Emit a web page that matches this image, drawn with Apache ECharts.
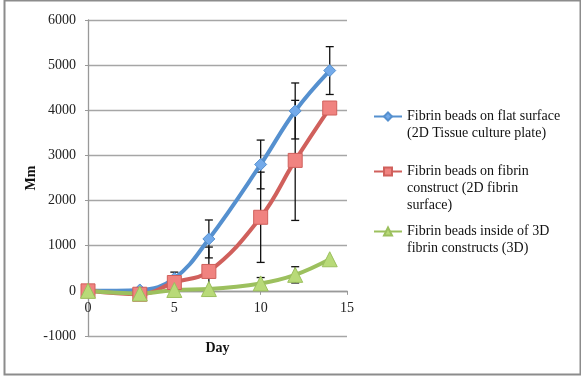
<!DOCTYPE html>
<html>
<head>
	<meta http-equiv="Content-Type" content="text/html; charset=utf-8"/>
	<title>Fibrin beads</title>
	<script type="text/javascript" src="https://cdn.jsdelivr.net/npm/echarts@6/dist/echarts.min.js"></script>
</head>
<style type="text/css">
	body{
		margin: 0px;
		padding: 0px;
		background: #fff;
	}
	#main {
		width: 581px;
		height: 376px;
	}
</style>
<body>
	<div id="main"></div>
</body>
</html>
<script type="text/javascript">
	// 数据
	var days = [0, 3, 5, 7, 10, 12, 14];
	var name_1 = 'Fibrin beads on flat surface\n(2D Tissue culture plate)';
	var name_2 = 'Fibrin beads on fibrin\nconstruct (2D fibrin\nsurface)';
	var name_3 = 'Fibrin beads inside of 3D\nfibrin constructs (3D)';
	var data_1 = [0, 20, 275, 1150, 2800, 3985, 4880];
	var data_2 = [0, -75, 185, 430, 1630, 2890, 4050];
	var data_3 = [0, -60, 20, 40, 165, 355, 700];
	// 误差
	var err_1 = [0, 0, 140, 420, 540, 620, 530];
	var err_2 = [0, 0, 0, 540, 1000, 1330, 0];
	var err_3 = [0, 0, 0, 0, 130, 180, 0];
	var y_ticks = {min: -1000, max: 6000, interval: 1000};
	var x_ticks = {min: 0, max: 15, interval: 5};

	var font = 'Liberation Serif';

	function pairs(vals){
		var out = [];
		for(var i=0;i<days.length;i++){
			out.push([days[i], vals[i]]);
		}
		return out;
	}
	function errData(vals, errs){
		var out = [];
		for(var i=0;i<days.length;i++){
			if(errs[i] > 0){
				out.push([days[i], vals[i]-errs[i], vals[i]+errs[i]]);
			}
		}
		return out;
	}
	function renderErr(params, api){
		var x = api.value(0);
		var top = api.coord([x, api.value(2)]);
		var bot = api.coord([x, api.value(1)]);
		var w = 4;
		var st = {stroke: '#111', lineWidth: 1.3};
		return {
			type: 'group',
			children: [
				{type: 'line', shape: {x1: top[0], y1: top[1], x2: bot[0], y2: bot[1]}, style: st},
				{type: 'line', shape: {x1: top[0]-w, y1: top[1], x2: top[0]+w, y2: top[1]}, style: st},
				{type: 'line', shape: {x1: bot[0]-w, y1: bot[1], x2: bot[0]+w, y2: bot[1]}, style: st}
			]
		};
	}
	function lineSeries(name, vals, lineColor, markColor, symbol, size){
		return {
			name: name,
			type: 'line',
			smooth: 0.4,
			z: 3,
			symbol: symbol,
			symbolSize: size,
			showAllSymbol: true,
			lineStyle: {color: lineColor, width: 4},
			itemStyle: {color: markColor, borderColor: lineColor, borderWidth: 1},
			data: pairs(vals)
		};
	}
	// 图例：首行与图标对齐
	function legendAt(name, top){
		return {
			data: [name],
			left: 373,
			top: top,
			orient: 'vertical',
			padding: 0,
			itemWidth: 28,
			itemHeight: 10,
			formatter: function(n){
				var k = n.split('\n').length - 1;
				var pre = '';
				for(var i=0;i<k;i++){ pre += ' \n'; }
				return pre + n;
			},
			textStyle: {
				fontFamily: font,
				fontSize: 14,
				color: '#111',
				lineHeight: 17
			}
		};
	}

	var myChart = echarts.init(document.getElementById('main'));
	var option = {
		animation: false,
		backgroundColor: '#fff',
		graphic: [{
			type: 'rect',
			left: 2,
			top: -2,
			shape: {width: 576, height: 374},
			style: {fill: 'none', stroke: '#8c8c8c', lineWidth: 2}
		}],
		grid: {
			left: 88,
			right: 234,
			top: 20,
			bottom: 40,
			outerBoundsMode: 'none'
		},
		legend: [
			legendAt(name_1, 91),
			legendAt(name_2, 129),
			legendAt(name_3, 206)
		],
		xAxis: {
			type: 'value',
			min: x_ticks.min,
			max: x_ticks.max,
			interval: x_ticks.interval,
			name: 'Day',
			nameLocation: 'middle',
			nameGap: 51,
			nameTextStyle: {fontFamily: font, fontSize: 14, fontWeight: 'bold', color: '#111'},
			splitLine: {show: false},
			axisLine: {onZero: false, lineStyle: {color: '#999', width: 1.3}},
			axisTick: {show: true, length: 4, lineStyle: {color: '#999'}},
			axisLabel: {fontFamily: font, fontSize: 14, color: '#222', margin: 10}
		},
		yAxis: {
			type: 'value',
			min: y_ticks.min,
			max: y_ticks.max,
			interval: y_ticks.interval,
			name: 'Mm',
			nameLocation: 'middle',
			nameGap: 50,
			nameTextStyle: {fontFamily: font, fontSize: 14, fontWeight: 'bold', color: '#111'},
			splitLine: {lineStyle: {color: '#a6a6a6', width: 1.3}},
			axisLine: {show: true, onZero: false, lineStyle: {color: '#999', width: 1.3}},
			axisTick: {show: true, length: 3, lineStyle: {color: '#999'}},
			axisLabel: {
				fontFamily: font, fontSize: 14, color: '#222', margin: 12,
				formatter: function(v){ return String(v); }
			}
		},
		series: [
			{type: 'custom', z: 1, renderItem: renderErr, data: errData(data_1, err_1)},
			{type: 'custom', z: 1, renderItem: renderErr, data: errData(data_2, err_2)},
			{type: 'custom', z: 1, renderItem: renderErr, data: errData(data_3, err_3)},
			lineSeries(name_1, data_1, '#5590cf', '#73aaea', 'diamond', 12),
			lineSeries(name_2, data_2, '#d0605c', '#f08380', 'rect', 14),
			lineSeries(name_3, data_3, '#9cc05e', '#b8da78', 'triangle', 15)
		]
	};
	myChart.setOption(option);
	// x轴移到 0 处
	var yZero = myChart.convertToPixel({yAxisIndex: 0}, 0);
	var yMin = myChart.convertToPixel({yAxisIndex: 0}, y_ticks.min);
	myChart.setOption({xAxis: {offset: yZero - yMin}});
</script>
